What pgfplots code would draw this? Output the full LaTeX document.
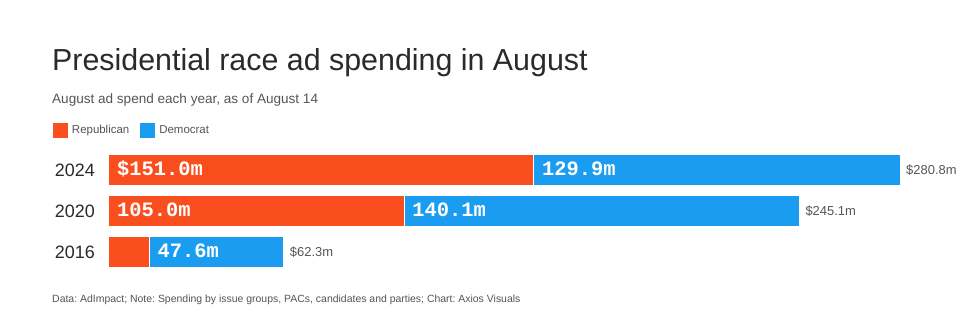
\documentclass[border=0pt]{standalone}
\usepackage{pgfplots}
\pgfplotsset{compat=1.18}
\usepackage{fontspec}
\setmainfont{Liberation Sans}
\setmonofont{Liberation Mono}
\definecolor{rep}{HTML}{FA4E1E}
\definecolor{dem}{HTML}{1A9CF0}
\definecolor{titlec}{HTML}{2A2A2A}
\definecolor{subc}{HTML}{555555}
\frenchspacing
\begin{document}
\begin{tikzpicture}[
  barlab/.style={anchor=base west, inner sep=0, text=white, font=\fontsize{20.5}{22}\selectfont\ttfamily\bfseries, yshift=-5.8bp},
  yearlab/.style={anchor=east, inner sep=0, text=titlec, font=\fontsize{18}{20}\selectfont, xshift=-13bp},
  totlab/.style={anchor=west, inner sep=0, text=subc, font=\fontsize{13}{15}\selectfont, xshift=6bp}]
\useasboundingbox[fill=white] (0,0) rectangle (980bp,-332bp);
\node[anchor=base west, inner sep=0, text=titlec, font=\fontsize{30.5}{32}\selectfont] at (52bp,-70bp) {Presidential race ad spending in August};
\node[anchor=base west, inner sep=0, text=subc, font=\fontsize{13.6}{15}\selectfont] at (52bp,-103bp) {August ad spend each year, as of August 14};
\node[anchor=base west, inner sep=0, text=subc, font=\fontsize{10.5}{13}\selectfont] at (52bp,-302bp) {Data: AdImpact; Note: Spending by issue groups, PACs, candidates and parties; Chart: Axios Visuals};
\begin{axis}[
  at={(108bp,-272.5bp)}, anchor=south west,
  scale only axis, width=792bp, height=123bp,
  xmin=0, xmax=280.8, ymin=-0.5, ymax=2.5,
  hide axis, clip=false,
  xbar stacked, bar width=31bp,
  legend columns=2,
  legend image code/.code={\fill[#1] (0bp,-8bp) rectangle (16bp,8bp);},
  legend style={at={(rel axis cs:-0.07071,1.15854)}, anchor=west, draw=none, fill=none,
    inner sep=0pt, outer sep=0pt, text=subc, font=\fontsize{11.5}{14}\selectfont,
    nodes={inner sep=0pt},
    /tikz/every odd column/.append style={column sep=3bp},
    /tikz/every even column/.append style={column sep=10bp}},
  legend cell align=left,
]
\addplot[fill=rep, draw=white, line width=1pt] coordinates {(14.7,0) (105.0,1) (151.0,2)};
\addplot[fill=dem, draw=white, line width=1pt] coordinates {(47.6,0) (140.1,1) (129.9,2)};
\legend{Republican, Democrat}
\coordinate (y0) at (axis cs:0,0);
\coordinate (y1) at (axis cs:0,1);
\coordinate (y2) at (axis cs:0,2);
\coordinate (d2) at (axis cs:151.0,2);
\coordinate (d1) at (axis cs:105.0,1);
\coordinate (d0) at (axis cs:14.7,0);
\coordinate (t2) at (axis cs:280.8,2);
\coordinate (t1) at (axis cs:245.1,1);
\coordinate (t0) at (axis cs:62.3,0);
\end{axis}
\node[yearlab] at (y0) {2016};
\node[yearlab] at (y1) {2020};
\node[yearlab] at (y2) {2024};
\node[barlab, xshift=9bp] at (y2) {\$151.0m};
\node[barlab, xshift=8bp] at (d2) {129.9m};
\node[barlab, xshift=9bp] at (y1) {105.0m};
\node[barlab, xshift=8bp] at (d1) {140.1m};
\node[barlab, xshift=8bp] at (d0) {47.6m};
\node[totlab] at (t2) {\$280.8m};
\node[totlab] at (t1) {\$245.1m};
\node[totlab] at (t0) {\$62.3m};
\end{tikzpicture}
\end{document}
